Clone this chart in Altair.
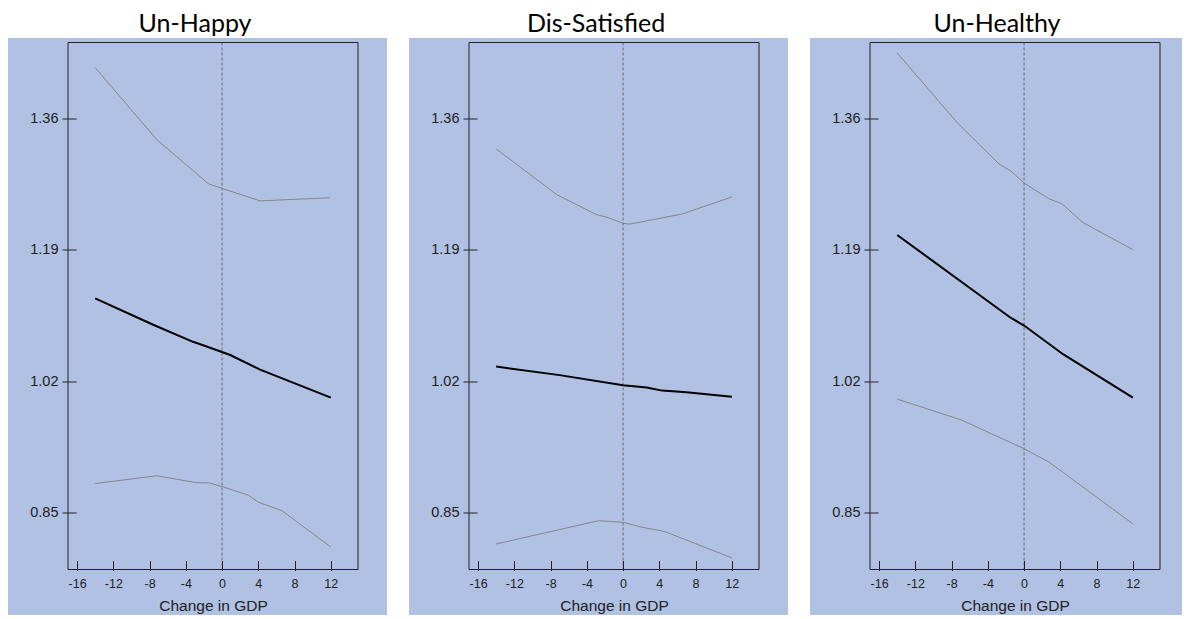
import altair as alt
import pandas as pd

BG = "#B0C1E3"
INK = "#222222"

titles = ["Un-Happy", "Dis-Satisfied", "Un-Healthy"]
x_ticks = [-16, -12, -8, -4, 0, 4, 8, 12]
y_ticks = [0.85, 1.02, 1.19, 1.36]

# Un-Happy
happy_upper_x = [-14, -7.2, -1.5, 0, 4.2, 11.9]
happy_upper_y = [1.425, 1.332, 1.275, 1.269, 1.253, 1.257]
happy_mid_x = [-14, -7.6, -3.2, -1.7, 0.9, 4.2, 12]
happy_mid_y = [1.127, 1.093, 1.071, 1.065, 1.054, 1.035, 0.999]
happy_lower_x = [-14, -7.2, -2.8, -1.5, 0, 2.9, 4, 6.6, 12]
happy_lower_y = [0.888, 0.898, 0.889, 0.889, 0.884, 0.873, 0.864, 0.853, 0.806]

# Dis-Satisfied
sat_upper_x = [-14, -7.3, -2.9, -1.8, 0, 0.75, 6.5, 12]
sat_upper_y = [1.320, 1.261, 1.235, 1.232, 1.224, 1.223, 1.236, 1.258]
sat_mid_x = [-14, -7, 0, 2.6, 4.3, 7, 12]
sat_mid_y = [1.039, 1.028, 1.015, 1.012, 1.008, 1.006, 1.000]
sat_lower_x = [-14, -2.7, 0, 1.9, 4.6, 12]
sat_lower_y = [0.810, 0.840, 0.838, 0.832, 0.826, 0.792]

# Un-Healthy
health_upper_x = [-14, -7.3, -2.8, -1.4, 0, 2.7, 4.2, 6.5, 12]
health_upper_y = [1.444, 1.353, 1.301, 1.291, 1.276, 1.256, 1.249, 1.225, 1.190]
health_mid_x = [-14, -1.6, 0, 4.3, 12]
health_mid_y = [1.209, 1.103, 1.092, 1.055, 0.999]
health_lower_x = [-14, -6.9, -4.1, 0, 2.7, 4.7, 12]
health_lower_y = [0.997, 0.970, 0.955, 0.933, 0.916, 0.899, 0.836]

W, H = 290, 527


def frame(xs, ys, name):
    return pd.DataFrame({"x": xs, "y": ys, "s": name})


def panel(title, upper, mid, lower, right_ext):
    ci = pd.concat([frame(*upper, "upper"), frame(*lower, "lower")])
    main = frame(*mid, "mid")
    xenc = alt.X("x:Q", title="Change in GDP",
                 scale=alt.Scale(domain=[-17, 15], nice=False, zero=False),
                 axis=alt.Axis(values=x_ticks, grid=False, domain=False, tickSize=10,
                               offset=-9, tickColor=INK, labelColor=INK,
                               labelExpr="datum.value < 0 ? '-' + abs(datum.value) : '' + datum.value",
                               labelFontSize=12.5, labelFont="Liberation Sans",
                               labelPadding=7, titleFont="Liberation Sans",
                               titleFontSize=15.5, titleFontWeight="normal",
                               titleColor=INK, titlePadding=8, labelFlush=False,
                               zindex=1))
    yenc = alt.Y("y:Q", title="",
                 scale=alt.Scale(domain=[0.777, 1.4575], nice=False, zero=False),
                 axis=alt.Axis(values=y_ticks, format=".2f", grid=False, domain=False,
                               tickSize=14, offset=-8, tickColor=INK, labelColor=INK,
                               labelFontSize=14.5, labelFont="Liberation Sans",
                               labelPadding=4, labelFlush=False, zindex=1))
    one = pd.DataFrame({"a": [0]})
    bg = alt.Chart(one).mark_rect(fill=BG).encode(
        x=alt.value(-60), x2=alt.value(W + right_ext),
        y=alt.value(-4.5), y2=alt.value(H + 45.5))
    box = alt.Chart(one).mark_rect(fillOpacity=0, stroke=INK, strokeWidth=1).encode(
        x=alt.value(0), x2=alt.value(W), y=alt.value(0), y2=alt.value(H))
    zero = alt.Chart(pd.DataFrame({"x": [0]})).mark_rule(
        color="#555555", strokeWidth=0.8, strokeDash=[3, 2]).encode(x=xenc)
    ci_lines = alt.Chart(ci).mark_line(color="#7f7f7f", strokeWidth=0.9).encode(
        x=xenc, y=yenc, detail="s:N", order="x:Q")
    main_line = alt.Chart(main).mark_line(color="#000000", strokeWidth=2).encode(
        x=xenc, y=yenc)
    return alt.layer(bg, zero, ci_lines, main_line, box).properties(
        width=W, height=H,
        title=alt.TitleParams(text=title, fontSize=25, font="Lato", fontWeight="normal",
                              color="#000000", dx=-18, offset=1, anchor="middle"))


p1 = panel(titles[0], (happy_upper_x, happy_upper_y), (happy_mid_x, happy_mid_y),
           (happy_lower_x, happy_lower_y), 29)
p2 = panel(titles[1], (sat_upper_x, sat_upper_y), (sat_mid_x, sat_mid_y),
           (sat_lower_x, sat_lower_y), 29)
p3 = panel(titles[2], (health_upper_x, health_upper_y), (health_mid_x, health_mid_y),
           (health_lower_x, health_lower_y), 22)

chart = alt.hconcat(p1, p2, p3, spacing=22).properties(
    padding={"left": 8, "top": 11.5, "right": 0, "bottom": 0},
    background="white",
).configure_view(stroke=None)

chart.save("out.html", embed_options={"renderer": "svg", "actions": False})
